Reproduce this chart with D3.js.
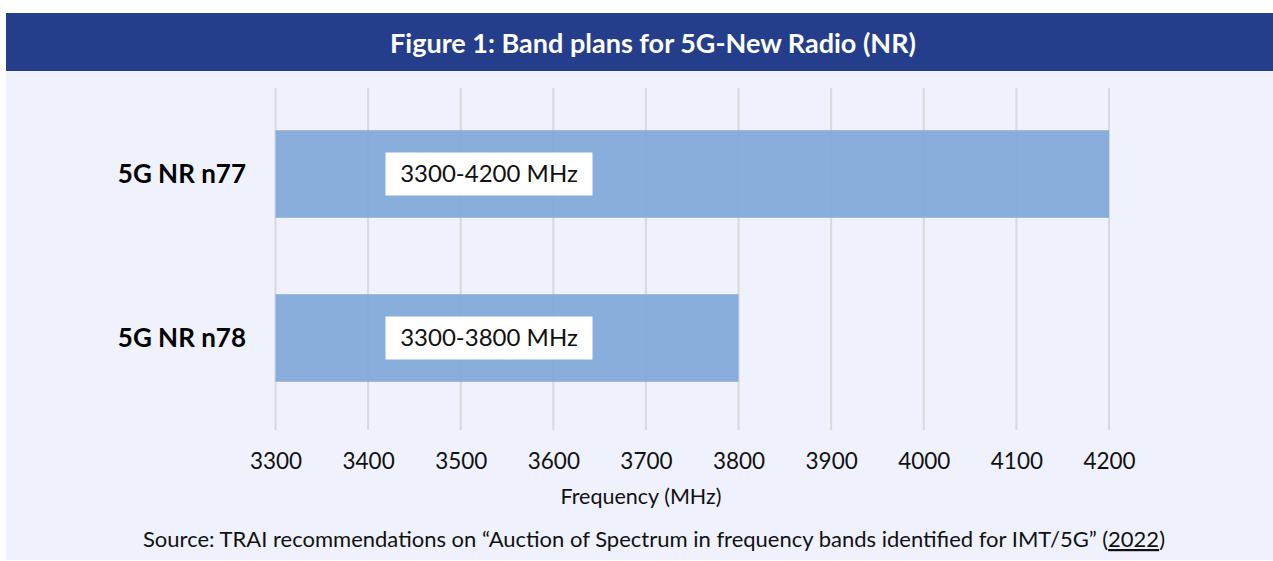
<!DOCTYPE html>
<html>
<head>
<meta charset="utf-8">
<script src="https://cdn.jsdelivr.net/npm/d3@7"></script>
<style>
  body { margin: 0; background: #fff; }
  svg { display: block; font-family: Lato, "Open Sans", sans-serif; }
</style>
</head>
<body>
<div id="chart"></div>
<script>
// data
const bands = ["5G NR n77", "5G NR n78"];
const startFreq = [3300, 3300];
const endFreq = [4200, 3800];
const rangeLabels = ["3300-4200 MHz", "3300-3800 MHz"];
const ticks = [3300, 3400, 3500, 3600, 3700, 3800, 3900, 4000, 4100, 4200];

const W = 1273, H = 561;

const svg = d3.select("#chart")
  .append("svg")
  .attr("width", W)
  .attr("height", H);

// panel background + header
svg.append("rect")
  .attr("x", 6).attr("y", 13)
  .attr("width", W - 6).attr("height", 547)
  .attr("fill", "#eff1fd");

svg.append("rect")
  .attr("x", 6).attr("y", 13)
  .attr("width", W - 6).attr("height", 58)
  .attr("fill", "#243e8c");

svg.append("text")
  .attr("x", 653).attr("y", 53)
  .attr("text-anchor", "middle")
  .attr("fill", "#fff")
  .style("font-size", "27px")
  .style("font-weight", "bold")
  .text("Figure 1: Band plans for 5G-New Radio (NR)");

const x = d3.scaleLinear()
  .domain([3300, 4200])
  .range([275.5, 1109]);

const y = d3.scaleBand()
  .domain(bands)
  .range([92, 420])
  .paddingInner(0.466)
  .paddingOuter(0.233);

// gridlines
svg.append("g")
  .selectAll("line")
  .data(ticks)
  .join("line")
  .attr("x1", (d) => x(d))
  .attr("x2", (d) => x(d))
  .attr("y1", 88)
  .attr("y2", 430)
  .attr("stroke", "#d9d9dc")
  .attr("stroke-width", 2);

// bars
svg.append("g")
  .selectAll("rect")
  .data(bands)
  .join("rect")
  .attr("x", (d, i) => x(startFreq[i]))
  .attr("y", (d) => y(d))
  .attr("width", (d, i) => x(endFreq[i]) - x(startFreq[i]))
  .attr("height", y.bandwidth())
  .attr("fill", "#7ea6d8")
  .attr("fill-opacity", 0.9);

// range labels in white boxes
const lab = svg.append("g")
  .selectAll("g")
  .data(bands)
  .join("g")
  .attr("transform", (d, i) => `translate(${x(startFreq[i]) + 110}, ${y(d) + y.bandwidth() / 2})`);

lab.append("rect")
  .attr("x", 0).attr("y", -21.5)
  .attr("width", 207).attr("height", 43)
  .attr("fill", "#fff");

lab.append("text")
  .attr("x", 103.5).attr("y", 8)
  .attr("text-anchor", "middle")
  .attr("fill", "#111")
  .style("font-size", "24px")
  .text((d, i) => rangeLabels[i]);

// category labels
svg.append("g")
  .selectAll("text")
  .data(bands)
  .join("text")
  .attr("x", 246)
  .attr("y", (d) => y(d) + y.bandwidth() / 2 + 9)
  .attr("text-anchor", "end")
  .attr("fill", "#000")
  .style("font-size", "26px")
  .style("font-weight", "bold")
  .text((d) => d);

// x axis labels
const xAxis = svg.append("g")
  .attr("transform", "translate(0, 440)")
  .call(d3.axisBottom(x).tickValues(ticks).tickSize(0).tickPadding(0).tickFormat(d3.format("d")));
xAxis.select(".domain").remove();
xAxis.selectAll("text")
  .attr("y", 29)
  .attr("dy", 0)
  .attr("fill", "#111")
  .style("font-family", "Lato, sans-serif")
  .style("font-size", "22.5px");

svg.append("text")
  .attr("x", 641).attr("y", 504)
  .attr("text-anchor", "middle")
  .attr("fill", "#111")
  .style("font-size", "21.5px")
  .text("Frequency (MHz)");

// source
const src = svg.append("text")
  .attr("x", 654).attr("y", 547)
  .attr("text-anchor", "middle")
  .attr("fill", "#111")
  .style("font-size", "22px");
src.append("tspan").text("Source: TRAI recommendations on \u201cAuction of Spectrum in frequency bands identified for IMT/5G\u201d (");
src.append("tspan").attr("text-decoration", "underline").text("2022");
src.append("tspan").text(")");
</script>
</body>
</html>
